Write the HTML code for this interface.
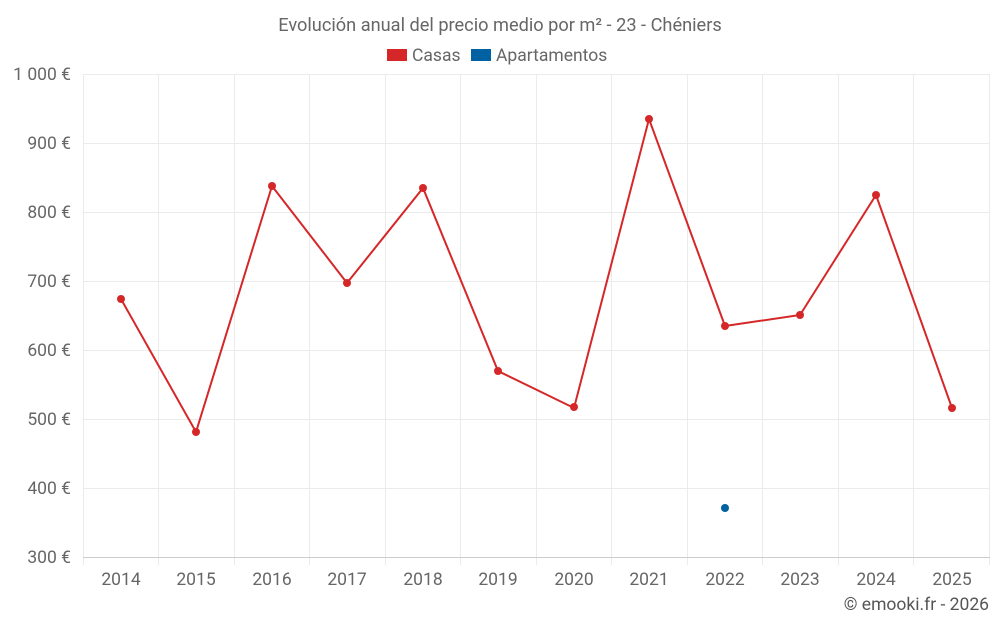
<!DOCTYPE html>
<html><head><meta charset="utf-8"><style>
body{margin:0;background:#fff;}
svg{display:block;font-family:"Roboto","Liberation Sans",sans-serif;}
</style></head><body>
<svg width="1000" height="625" viewBox="0 0 1000 625">
<text x="500" y="31" text-anchor="middle" font-size="18.2" fill="#666">Evolución anual del precio medio por m² - 23 - Chéniers</text>
<rect x="387" y="49" width="20" height="12" fill="#d62728"/>
<text x="412" y="61" font-size="17.5" fill="#666">Casas</text>
<rect x="471" y="49" width="20" height="12" fill="#0062a3"/>
<text x="496" y="61" font-size="17.5" fill="#666">Apartamentos</text>
<g stroke="#ebebeb" stroke-width="1">
<line x1="83" x2="990" y1="74.5" y2="74.5"/><line x1="83" x2="990" y1="143.5" y2="143.5"/>
<line x1="83" x2="990" y1="212.5" y2="212.5"/><line x1="83" x2="990" y1="281.5" y2="281.5"/>
<line x1="83" x2="990" y1="350.5" y2="350.5"/><line x1="83" x2="990" y1="419.5" y2="419.5"/>
<line x1="83" x2="990" y1="488.5" y2="488.5"/>
<line x1="83.5" x2="83.5" y1="74" y2="565"/><line x1="158.5" x2="158.5" y1="74" y2="565"/>
<line x1="234.5" x2="234.5" y1="74" y2="565"/><line x1="309.5" x2="309.5" y1="74" y2="565"/>
<line x1="385.5" x2="385.5" y1="74" y2="565"/><line x1="460.5" x2="460.5" y1="74" y2="565"/>
<line x1="536.5" x2="536.5" y1="74" y2="565"/><line x1="611.5" x2="611.5" y1="74" y2="565"/>
<line x1="687.5" x2="687.5" y1="74" y2="565"/><line x1="762.5" x2="762.5" y1="74" y2="565"/>
<line x1="838.5" x2="838.5" y1="74" y2="565"/><line x1="913.5" x2="913.5" y1="74" y2="565"/>
<line x1="989.5" x2="989.5" y1="74" y2="565"/>
</g>
<line x1="83" x2="990" y1="557.5" y2="557.5" stroke="#ccc"/>
<g font-size="17.5" fill="#666" text-anchor="end">
<text x="71" y="80">1 000 €</text><text x="71" y="149">900 €</text><text x="71" y="218">800 €</text>
<text x="71" y="287">700 €</text><text x="71" y="356">600 €</text><text x="71" y="425">500 €</text>
<text x="71" y="494">400 €</text><text x="71" y="563">300 €</text>
</g>
<g font-size="17.5" fill="#666" text-anchor="middle">
<text x="121" y="585">2014</text><text x="196" y="585">2015</text><text x="272" y="585">2016</text>
<text x="347" y="585">2017</text><text x="423" y="585">2018</text><text x="498" y="585">2019</text>
<text x="574" y="585">2020</text><text x="649" y="585">2021</text><text x="725" y="585">2022</text>
<text x="800" y="585">2023</text><text x="876" y="585">2024</text><text x="952" y="585">2025</text>
</g>
<polyline fill="none" stroke="#d62728" stroke-width="2" points="121,299 196,432 272,186 347,283 423,188 498,371 574,408 649,119 725,326 800,315 876,195 952,408"/>
<g fill="#d62728">
<circle cx="121" cy="299" r="4"/><circle cx="196" cy="432" r="4"/><circle cx="272" cy="186" r="4"/>
<circle cx="347" cy="283" r="4"/><circle cx="423" cy="188" r="4"/><circle cx="498" cy="371" r="4"/>
<circle cx="574" cy="407" r="4"/><circle cx="649" cy="119" r="4"/><circle cx="725" cy="326" r="4"/>
<circle cx="800" cy="315" r="4"/><circle cx="876" cy="195" r="4"/><circle cx="952" cy="408" r="4"/>
</g>
<circle cx="725" cy="508" r="4" fill="#0062a3"/>
<text x="989" y="610" text-anchor="end" font-size="17.5" fill="#555">© emooki.fr - 2026</text>
</svg>
</body></html>
